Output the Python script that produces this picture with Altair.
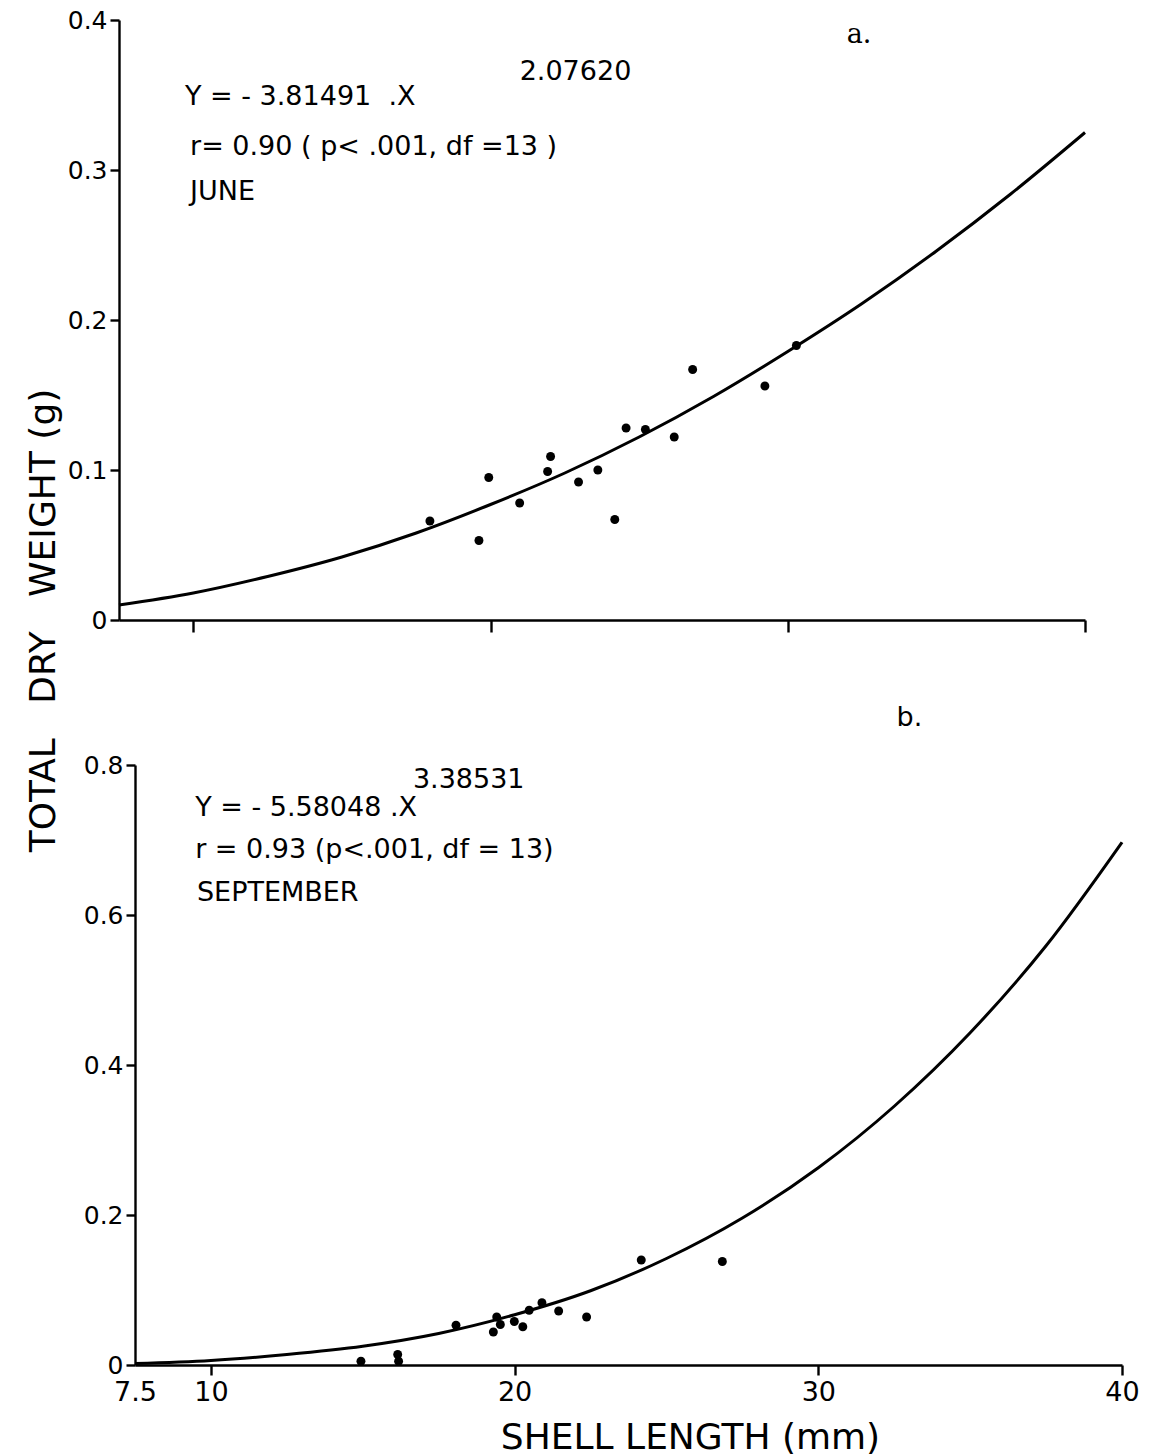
import altair as alt
import pandas as pd

FONT = "DejaVu Sans"
NB = "\u00a0"

# Shell length (mm) and total dry weight (g) of individual animals
june_length = [17.96, 19.61, 19.94, 20.98, 21.92, 22.02, 22.96, 23.61, 24.18, 24.56, 25.21, 26.18, 26.80, 29.23, 30.29]
june_weight = [0.066, 0.053, 0.095, 0.078, 0.099, 0.109, 0.092, 0.100, 0.067, 0.128, 0.127, 0.122, 0.167, 0.156, 0.183]

sept_length = [14.94, 16.15, 16.18, 18.07, 19.41, 19.30, 19.53, 19.99, 20.27, 20.48, 20.90, 21.45, 22.37, 24.17, 26.84]
sept_weight = [0.005, 0.014, 0.005, 0.053, 0.064, 0.044, 0.054, 0.058, 0.051, 0.073, 0.083, 0.072, 0.064, 0.140, 0.138]

# Fitted length-weight curves, sampled along shell length
curve_length = [7.5, 10, 12.5, 15, 17.5, 20, 22.5, 25, 27.5, 30, 32.5, 35, 37.5, 40]
june_curve = [0.010, 0.018, 0.029, 0.042, 0.058, 0.077, 0.098, 0.122, 0.149, 0.179, 0.211, 0.246, 0.284, 0.325]
sept_curve = [0.002, 0.006, 0.014, 0.025, 0.042, 0.067, 0.099, 0.142, 0.196, 0.263, 0.345, 0.443, 0.559, 0.697]

# Regression annotations (text, anchor length, anchor weight)
june_notes = ["Y = - 3.81491" + NB * 2 + ".X", "2.07620", "r= 0.90 ( p< .001, df =13 )", "JUNE"]
june_notes_x = [9.72, 20.98, 9.89, 9.89]
june_notes_y = [0.3487, 0.3653, 0.3153, 0.2853]

sept_notes = ["3.38531", "Y = - 5.58048 .X", "r = 0.93 (p<.001, df = 13)", "SEPTEMBER"]
sept_notes_x = [16.65, 9.48, 9.48, 9.54]
sept_notes_y = [0.780, 0.7427, 0.6867, 0.6293]

# Panel letters
panel_tags = ["a.", "b."]
panel_tag_x = [32.4, 33.0]
panel_tag_y = [0.39, 0.8627]

X_DOMAIN = [7.5, 40]


def panel(length, weight, curve, notes, nx, ny, tag, tx, ty, ymax, width, xaxis, yaxis, tag_font):
    pts = pd.DataFrame({"length": length, "weight": weight})
    fit = pd.DataFrame({"length": curve_length, "weight": curve})
    txt = pd.DataFrame({"length": nx, "weight": ny, "text": notes})
    lab = pd.DataFrame({"length": [tx], "weight": [ty], "text": [tag]})

    x = alt.X("length:Q", scale=alt.Scale(domain=X_DOMAIN, nice=False, zero=False), axis=xaxis)
    y = alt.Y("weight:Q", scale=alt.Scale(domain=[0, ymax], nice=False), axis=yaxis)

    line = alt.Chart(fit).mark_line(
        color="black", strokeWidth=3, interpolate="monotone"
    ).encode(x=x, y=y)
    dots = alt.Chart(pts).mark_circle(color="black", size=80, opacity=1).encode(
        x="length:Q", y="weight:Q"
    )
    note = alt.Chart(txt).mark_text(
        align="left", baseline="middle", font=FONT, fontSize=27, color="black"
    ).encode(x="length:Q", y="weight:Q", text="text:N")
    letter = alt.Chart(lab).mark_text(
        align="center", baseline="middle", font=tag_font, fontSize=27, color="black"
    ).encode(x="length:Q", y="weight:Q", text="text:N")
    return alt.layer(line, dots, note, letter).properties(width=width, height=600)


y_label_expr = "datum.value == 0 ? '0' : format(datum.value, '.1f')"

top = panel(
    june_length, june_weight, june_curve,
    june_notes, june_notes_x, june_notes_y,
    panel_tags[0], panel_tag_x[0], panel_tag_y[0],
    0.4, 966,
    alt.Axis(values=[10, 20, 30, 40], labels=False, title=None, tickSize=12),
    alt.Axis(
        values=[0, 0.1, 0.2, 0.3, 0.4], labelExpr=y_label_expr, tickSize=9, labelPadding=3,
        title="TOTAL" + NB * 3 + "DRY" + NB * 3 + "WEIGHT (g)",
        titleX=-76, titleY=600, titleAngle=270, titleAlign="center", titleBaseline="middle",
    ),
    "DejaVu Serif",
)

bottom = panel(
    sept_length, sept_weight, sept_curve,
    sept_notes, sept_notes_x, sept_notes_y,
    panel_tags[1], panel_tag_x[1], panel_tag_y[1],
    0.8, 987,
    alt.Axis(
        values=[7.5, 10, 20, 30, 40],
        labelExpr="datum.value == 7.5 ? '7.5' : format(datum.value, 'd')",
        tickSize=10, labelPadding=4, labelFontSize=27, labelFlush=False, labelOverlap=False,
        tickOpacity={"condition": {"test": "datum.value == 7.5", "value": 0}, "value": 1},
        title="SHELL LENGTH (mm)", titleX=555, titleY=72,
        titleAlign="center", titleBaseline="middle",
    ),
    alt.Axis(values=[0, 0.2, 0.4, 0.6, 0.8], labelExpr=y_label_expr, tickSize=9, labelPadding=3, title=None),
    FONT,
)

# small invisible block that shifts the lower panel to the right
spacer_df = pd.DataFrame({"v": [0]})
spacer = alt.Chart(spacer_df).mark_point(opacity=0).encode(
    x=alt.X("v:Q", axis=None), y=alt.Y("v:Q", axis=None)
).properties(width=16, height=600)

bottom_row = alt.hconcat(spacer, bottom, spacing=0, bounds="flush")

chart = (
    alt.vconcat(top, bottom_row, spacing=145, bounds="flush")
    .properties(padding={"left": 25, "top": 8, "right": 10, "bottom": 5}, background="white")
    .configure_view(stroke=None)
    .configure_axis(
        domainColor="black", tickColor="black", labelColor="black", titleColor="black",
        domainWidth=2.4, tickWidth=2.4, grid=False,
        labelFont=FONT, titleFont=FONT, labelFontSize=25, titleFontSize=36, titleFontWeight="normal",
    )
)

chart.save("out.html", embed_options={"renderer": "svg", "actions": False})
